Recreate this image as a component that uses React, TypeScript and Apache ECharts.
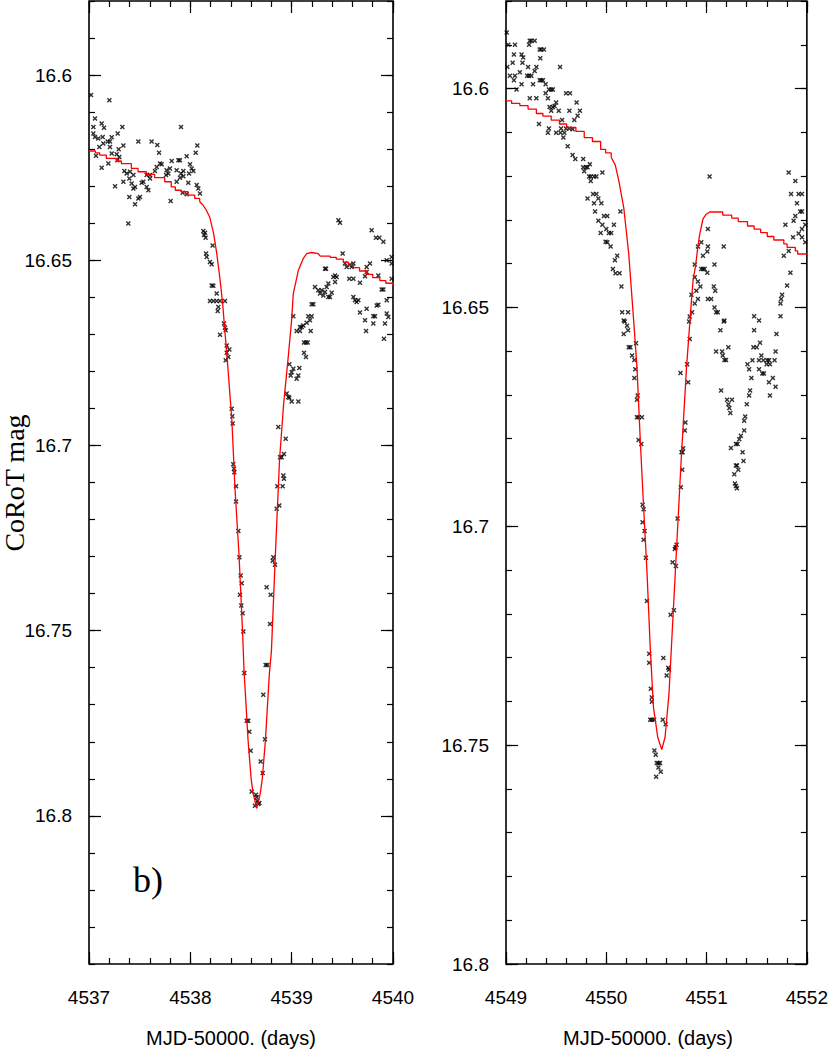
import React, { useEffect, useRef } from "react";
import * as echarts from "echarts";

// ---- tick labels / ranges ----
const leftXTicks = [4537, 4538, 4539, 4540];
const rightXTicks = [4549, 4550, 4551, 4552];
const leftYTicks = [16.6, 16.65, 16.7, 16.75, 16.8];
const rightYTicks = [16.6, 16.65, 16.7, 16.75, 16.8];
const leftXRange = [4537, 4540];
const rightXRange = [4549, 4552];
const leftYRange = [16.58, 16.84];
const rightYRange = [16.58, 16.8];

// ---- observations, panel b left (MJD-50000, CoRoT mag) ----
const leftObs: [number, number][] = [
  [4537.020,16.6054],[4537.201,16.6068],[4537.059,16.6117],[4537.043,16.6140],[4537.125,16.6131],[4537.148,16.6142],[4537.329,16.6140],[4537.043,16.6158],[4537.059,16.6167],[4537.092,16.6171],[4537.135,16.6167],[4537.224,16.6168],[4537.283,16.6158],[4537.908,16.6140],[4537.487,16.6179],[4537.618,16.6179],[4537.674,16.6189],[4537.691,16.6210],[4537.339,16.6190],[4537.293,16.6200],[4537.184,16.6179],[4537.207,16.6179],[4537.207,16.6194],[4537.141,16.6185],[4537.102,16.6194],[4537.069,16.6218],[4537.224,16.6212],[4537.273,16.6214],[4537.299,16.6221],[4537.280,16.6230],[4537.125,16.6250],[4537.191,16.6239],
  [4538.069,16.6190],[4538.053,16.6210],[4537.964,16.6219],[4537.882,16.6230],[4537.898,16.6230],[4537.816,16.6232],[4537.701,16.6239],[4537.717,16.6241],[4537.668,16.6248],[4537.651,16.6259],[4537.766,16.6257],[4537.783,16.6266],[4537.760,16.6270],[4537.799,16.6252],[4537.865,16.6257],[4537.931,16.6259],[4537.997,16.6241],[4538.013,16.6252],[4538.030,16.6259],[4537.987,16.6266],[4537.908,16.6266],[4537.898,16.6277],[4537.865,16.6288],[4537.931,16.6273],[4537.980,16.6291],[4538.063,16.6297],[4538.079,16.6306],[4538.095,16.6320],[4537.924,16.6318],[4537.964,16.6322],[4537.806,16.6340],
  [4537.349,16.6259],[4537.372,16.6266],[4537.405,16.6261],[4537.438,16.6270],[4537.398,16.6279],[4537.339,16.6288],[4537.257,16.6300],[4537.421,16.6293],[4537.438,16.6306],[4537.454,16.6302],[4537.520,16.6291],[4537.536,16.6288],[4537.569,16.6302],[4537.586,16.6311],[4537.602,16.6270],[4537.602,16.6279],[4537.569,16.6270],[4537.503,16.6329],[4537.487,16.6333],[4537.454,16.6349],[4537.398,16.6329],[4537.388,16.6401],
  [4538.128,16.6421],[4538.145,16.6426],[4538.135,16.6432],[4538.151,16.6439],[4538.220,16.6460],[4538.155,16.6482],[4538.161,16.6491],[4538.194,16.6505],[4538.211,16.6511],[4538.211,16.6568],[4538.227,16.6569],[4538.260,16.6590],[4538.194,16.6610],[4538.227,16.6610],[4538.260,16.6610],[4538.293,16.6610],[4538.342,16.6610],[4538.276,16.6626],[4538.270,16.6637],[4538.332,16.6671],[4538.342,16.6682],
  [4539.016,16.6651],[4539.197,16.6619],[4539.214,16.6619],[4539.164,16.6651],[4539.197,16.6651],[4539.181,16.6662],[4539.230,16.6572],[4539.263,16.6581],[4539.280,16.6590],[4539.296,16.6581],[4539.313,16.6595],[4539.329,16.6586],[4539.362,16.6599],[4539.378,16.6599],[4539.395,16.6588],[4539.345,16.6572],[4539.362,16.6563],[4539.428,16.6559],[4539.411,16.6545],[4539.444,16.6545],[4539.428,16.6541],[4539.461,16.6392],[4539.477,16.6399],[4539.503,16.6482],[4539.526,16.6509],[4539.543,16.6518],[4539.576,16.6512],[4539.592,16.6518],[4539.609,16.6509],[4539.569,16.6550],[4539.609,16.6550],[4539.674,16.6561],[4539.724,16.6543],[4539.740,16.6532],[4539.740,16.6518],[4539.773,16.6509],[4539.789,16.6419],[4539.832,16.6439],[4539.865,16.6439],[4539.905,16.6450],[4539.855,16.6541],[4539.938,16.6500],[4539.987,16.6491],[4539.987,16.6509],[4539.987,16.6550],[4539.888,16.6579],[4539.905,16.6579],[4539.609,16.6599],[4539.625,16.6608],[4539.641,16.6613],[4539.658,16.6608],[4539.674,16.6641],[4539.740,16.6631],[4539.806,16.6651],[4539.822,16.6651],[4539.839,16.6622],[4539.855,16.6620],[4539.938,16.6608],[4539.938,16.6644],[4539.954,16.6653],[4539.921,16.6671],[4539.806,16.6671],[4539.724,16.6662],[4539.329,16.6523],[4539.339,16.6523],[4539.082,16.6680],[4539.115,16.6676],[4539.148,16.6669],
  [4538.349,16.6689],[4538.293,16.6701],[4538.359,16.6730],[4538.385,16.6741],[4538.359,16.6750],[4538.375,16.6761],[4538.349,16.6770],[4538.408,16.6901],[4538.414,16.6921],[4538.418,16.6941],[4538.424,16.7051],[4538.431,16.7063],[4538.434,16.7072],[4538.451,16.7110],[4538.451,16.7151],[4538.474,16.7231],[4538.484,16.7302],[4538.497,16.7351],[4538.507,16.7372],[4538.490,16.7403],[4538.503,16.7432],[4538.516,16.7453],[4538.523,16.7502],
  [4538.786,16.7482],[4538.793,16.7403],[4538.753,16.7383],[4538.819,16.7302],[4538.813,16.7311],[4538.836,16.7322],[4538.852,16.7171],[4538.878,16.7162],[4538.859,16.7110],[4538.911,16.7110],[4538.918,16.7081],[4538.924,16.7090],[4538.885,16.7032],[4538.901,16.7032],[4538.924,16.7023],[4538.941,16.6982],[4538.868,16.6950],[4538.951,16.6860],[4538.967,16.6869],[4538.977,16.6871],[4539.000,16.6881],[4539.066,16.6881],[4539.049,16.6820],[4539.066,16.6811],[4538.990,16.6811],[4539.000,16.6802],[4539.016,16.6793],[4538.977,16.6781],[4539.076,16.6791],[4539.122,16.6750],[4539.141,16.6761],[4539.141,16.6722],[4539.122,16.6722],[4539.158,16.6722],[4539.049,16.6691],[4539.082,16.6691],[4539.099,16.6680],[4539.188,16.6691],[4539.734,16.6691],[4539.911,16.6712],
  [4538.533,16.7614],[4538.556,16.7743],[4538.572,16.7743],[4538.582,16.7773],[4538.595,16.7824],[4538.605,16.7934],[4538.648,16.7943],[4538.655,16.7950],[4538.661,16.7959],[4538.681,16.7965],[4538.638,16.7973],[4538.671,16.7968],[4538.694,16.7853],[4538.714,16.7884],[4538.720,16.7673],[4538.737,16.7793],[4538.743,16.7593],[4538.760,16.7593],
];

// ---- model, left panel ----
const leftModelPre: [number, number][] = [
  [4537.000,16.6205],[4537.063,16.6210],[4537.105,16.6216],[4537.171,16.6225],[4537.270,16.6232],[4537.319,16.6239],[4537.418,16.6252],[4537.484,16.6261],[4537.566,16.6268],[4537.648,16.6277],[4537.747,16.6288],[4537.812,16.6302],[4537.852,16.6311],[4537.911,16.6315],[4537.977,16.6324],[4538.043,16.6333],[4538.092,16.6342],
];
const leftModelDip: [number, number][] = [
  [4538.092,16.6342],[4538.125,16.6351],[4538.158,16.6365],[4538.191,16.6383],[4538.230,16.6428],[4538.260,16.6480],[4538.290,16.6545],[4538.320,16.6620],[4538.340,16.6689],[4538.360,16.6752],[4538.410,16.6932],[4538.440,16.7113],[4538.480,16.7293],[4538.515,16.7500],[4538.530,16.7608],[4538.570,16.7797],[4538.600,16.7900],[4538.620,16.7940],[4538.655,16.7980],[4538.690,16.7940],[4538.710,16.7900],[4538.740,16.7800],[4538.780,16.7616],[4538.800,16.7556],[4538.840,16.7290],[4538.880,16.7040],[4538.920,16.6890],[4538.970,16.6750],[4539.000,16.6660],[4539.016,16.6590],[4539.066,16.6527],[4539.115,16.6495],[4539.148,16.6482],[4539.197,16.6479],[4539.263,16.6482],[4539.280,16.6489],
];
const leftModelPost: [number, number][] = [
  [4539.280,16.6489],[4539.380,16.6492],[4539.440,16.6497],[4539.510,16.6505],[4539.560,16.6514],[4539.610,16.6520],[4539.670,16.6529],[4539.740,16.6538],[4539.800,16.6547],[4539.870,16.6555],[4539.930,16.6562],[4540.000,16.6570],
];

// ---- observations, right panel ----
const rightObs: [number, number][] = [
  [4549.007,16.5872],[4549.023,16.5900],[4549.089,16.5900],[4549.013,16.5951],[4549.066,16.5941],[4549.079,16.5922],[4549.155,16.5922],[4549.171,16.5929],[4549.164,16.5941],[4549.237,16.5891],[4549.253,16.5891],[4549.286,16.5891],[4549.230,16.5900],[4549.336,16.5911],[4549.352,16.5911],[4549.378,16.5911],[4549.342,16.5931],[4549.220,16.5951],[4549.303,16.5951],[4549.539,16.5951],[4549.039,16.5971],[4549.089,16.5971],[4549.079,16.5981],[4549.138,16.5963],[4549.105,16.6002],[4549.155,16.5990],[4549.211,16.5971],[4549.230,16.5971],[4549.253,16.5971],[4549.286,16.5960],[4549.336,16.5981],[4549.352,16.5981],[4549.368,16.5981],[4549.270,16.5990],[4549.395,16.5990],[4549.428,16.6002],[4549.451,16.6002],[4549.467,16.6002],[4549.395,16.6011],[4549.418,16.6022],[4549.467,16.6042],[4549.484,16.6040],[4549.500,16.6032],[4549.434,16.6042],[4549.451,16.6051],[4549.526,16.6051],[4549.237,16.6022],[4549.303,16.6022],[4549.599,16.6011],[4549.638,16.6011],[4549.704,16.6032],[4549.632,16.6051],[4549.737,16.6051],[4549.714,16.6062],[4549.681,16.6072],[4549.559,16.6072],[4549.329,16.6081],[4549.428,16.6091],[4549.418,16.6101],[4549.500,16.6101],[4549.543,16.6101],[4549.582,16.6101],[4549.549,16.6091],[4549.599,16.6091],[4549.632,16.6091],[4549.664,16.6093],[4549.572,16.6112],[4549.615,16.6132],[4549.664,16.6152],[4549.691,16.6161],[4549.770,16.6161],[4549.770,16.6180],[4549.796,16.6180],[4549.813,16.6180],[4549.836,16.6173],[4549.780,16.6189],[4549.829,16.6201],[4549.845,16.6201],[4549.878,16.6201],[4549.901,16.6201],[4549.845,16.6211],[4549.961,16.6192],[4549.813,16.6251],[4549.868,16.6241],[4549.901,16.6241],[4549.921,16.6251],[4549.878,16.6262],[4549.951,16.6262],[4549.888,16.6281],[4549.977,16.6291],[4550.010,16.6291],[4549.921,16.6302],[4549.961,16.6311],[4549.944,16.6330],[4550.000,16.6321],[4550.026,16.6330],[4550.049,16.6330],[4550.076,16.6311],[4549.993,16.6350],[4550.010,16.6351],[4550.043,16.6361],[4550.109,16.6382],[4550.086,16.6392],[4550.066,16.6412],[4550.092,16.6422],[4550.132,16.6422],[4550.151,16.6452],[4550.141,16.6281],[4550.158,16.6511],[4550.217,16.6511],
  [4551.030,16.6201],[4551.013,16.6321],[4550.914,16.6361],[4550.947,16.6351],[4551.013,16.6361],[4550.964,16.6382],[4551.007,16.6372],[4551.171,16.6361],[4551.079,16.6402],[4550.882,16.6402],[4550.947,16.6412],[4550.964,16.6412],[4550.980,16.6412],[4551.007,16.6421],[4550.882,16.6431],[4550.914,16.6441],[4550.938,16.6452],[4550.898,16.6462],[4550.849,16.6471],[4551.072,16.6452],[4551.086,16.6462],[4550.882,16.6491],[4550.914,16.6481],[4551.013,16.6481],[4551.046,16.6481],[4551.079,16.6500],[4551.095,16.6511],[4551.112,16.6511],[4551.178,16.6530],[4551.474,16.6520],[4551.523,16.6530],[4551.737,16.6520],[4551.786,16.6311],[4551.770,16.6382],[4551.819,16.6371],[4551.836,16.6421],[4551.803,16.6450],[4551.753,16.6471],[4551.737,16.6491],[4551.743,16.6481],[4551.819,16.6192],[4551.885,16.6211],[4551.842,16.6241],[4551.918,16.6241],[4551.951,16.6241],[4551.901,16.6262],[4551.934,16.6281],[4551.951,16.6281],[4551.885,16.6291],[4551.868,16.6302],[4551.984,16.6311],[4551.951,16.6321],[4551.918,16.6331],[4551.951,16.6340],[4551.862,16.6340],[4551.984,16.6351],
  [4550.174,16.6530],[4550.184,16.6532],[4550.207,16.6542],[4550.217,16.6552],[4550.174,16.6561],[4550.296,16.6582],[4550.240,16.6591],[4550.224,16.6591],[4550.257,16.6610],[4550.280,16.6620],[4550.289,16.6641],[4550.280,16.6661],[4550.313,16.6701],[4550.306,16.6711],[4550.322,16.6751],[4550.306,16.6751],[4550.355,16.6751],[4550.322,16.6803],[4550.349,16.6812],[4550.362,16.6951],[4550.372,16.6961],[4550.362,16.6991],[4550.382,16.7011],[4550.372,16.7031],[4550.395,16.7072],
  [4550.855,16.6511],[4550.832,16.6521],[4550.826,16.6532],[4550.832,16.6572],[4550.740,16.6650],[4550.806,16.6630],[4550.816,16.6671],[4550.789,16.6763],[4550.783,16.6781],[4550.766,16.6822],[4550.750,16.6831],[4550.760,16.6831],[4550.757,16.6871],[4550.743,16.6911],[4550.711,16.6982],[4550.701,16.7042],[4550.684,16.7052],[4550.691,16.7048],[4550.661,16.7082],[4550.694,16.7091],
  [4551.171,16.6532],[4551.138,16.6552],[4551.217,16.6591],[4551.095,16.6601],[4551.155,16.6601],[4551.161,16.6610],[4551.178,16.6620],[4551.194,16.6620],[4551.145,16.6690],[4551.204,16.6711],[4551.217,16.6721],[4551.253,16.6711],[4551.227,16.6730],[4551.237,16.6741],[4551.408,16.6630],[4551.424,16.6641],[4551.457,16.6621],[4551.447,16.6661],[4551.434,16.6690],[4551.424,16.6701],[4551.401,16.6721],[4551.385,16.6749],[4551.375,16.6759],[4551.375,16.6781],[4551.342,16.6793],[4551.326,16.6801],[4551.309,16.6812],[4551.293,16.6812],[4551.243,16.6821],[4551.359,16.6831],[4551.293,16.6861],[4551.303,16.6861],[4551.316,16.6871],[4551.276,16.6881],[4551.368,16.6851],[4551.283,16.6902],[4551.293,16.6908],[4551.303,16.6913],
  [4551.474,16.6552],[4551.533,16.6581],[4551.467,16.6591],[4551.500,16.6591],[4551.546,16.6610],[4551.523,16.6621],[4551.566,16.6621],[4551.605,16.6621],[4551.622,16.6621],[4551.599,16.6630],[4551.632,16.6630],[4551.523,16.6641],[4551.556,16.6651],[4551.572,16.6651],[4551.678,16.6621],[4551.688,16.6601],[4551.661,16.6661],[4551.622,16.6671],[4551.688,16.6681],[4551.632,16.6701],[4551.697,16.6561],
  [4550.405,16.7171],[4550.428,16.7291],[4550.428,16.7312],[4550.444,16.7371],[4550.454,16.7391],[4550.454,16.7401],[4550.438,16.7442],[4550.454,16.7442],[4550.477,16.7442],[4550.480,16.7512],[4550.493,16.7522],[4550.503,16.7541],[4550.520,16.7541],[4550.536,16.7541],[4550.520,16.7551],[4550.543,16.7561],[4550.497,16.7572],[4550.569,16.7301],[4550.563,16.7442],[4550.592,16.7452],[4550.602,16.7341],[4550.618,16.7323],[4550.625,16.7328],[4550.641,16.7202],[4550.674,16.7192],
];

// ---- model, right panel ----
const rightModelPre: [number, number][] = [
  [4549.000,16.6028],[4549.056,16.6034],[4549.138,16.6039],[4549.220,16.6047],[4549.303,16.6057],[4549.368,16.6063],[4549.451,16.6072],[4549.533,16.6081],[4549.605,16.6089],[4549.697,16.6098],[4549.780,16.6112],[4549.862,16.6121],[4549.944,16.6139],[4549.993,16.6147],[4550.049,16.6157],
];
const rightModelDip: [number, number][] = [
  [4550.049,16.6157],[4550.090,16.6175],[4550.125,16.6211],[4550.174,16.6272],[4550.224,16.6378],[4550.273,16.6530],[4550.306,16.6637],[4550.339,16.6804],[4550.372,16.6956],[4550.405,16.7100],[4550.438,16.7276],[4550.470,16.7413],[4550.513,16.7482],[4550.553,16.7510],[4550.586,16.7482],[4550.625,16.7383],[4550.658,16.7238],[4550.684,16.7124],[4550.717,16.6979],[4550.750,16.6835],[4550.800,16.6637],[4550.849,16.6485],[4550.865,16.6439],[4550.890,16.6405],[4550.914,16.6360],[4550.931,16.6333],[4550.964,16.6298],[4550.997,16.6287],[4551.030,16.6282],[4551.145,16.6282],
];
const rightModelPost: [number, number][] = [
  [4551.145,16.6282],[4551.161,16.6289],[4551.250,16.6296],[4551.316,16.6304],[4551.408,16.6314],[4551.474,16.6321],[4551.539,16.6329],[4551.605,16.6338],[4551.671,16.6346],[4551.770,16.6355],[4551.803,16.6363],[4551.885,16.6371],[4551.908,16.6378],[4552.000,16.6378],
];

const CROSS = "path://M0,2L2,0L5,3L8,0L10,2L7,5L10,8L8,10L5,7L2,10L0,8L3,5Z";
const SANS = '"Liberation Sans", Arial, sans-serif';
const SERIF = '"Liberation Serif", "Times New Roman", serif';

function fmt(v: number) {
  return String(Math.round(v * 100) / 100);
}

function minorValues(min: number, max: number, step: number) {
  const out: number[] = [];
  const n = Math.round((max - min) / step);
  for (let i = 0; i <= n; i++) out.push(Math.round((min + i * step) * 1000) / 1000);
  return out;
}

function buildAxes(
  gridIndex: number,
  xr: number[],
  xMajor: number[],
  yr: number[],
  yMajor: number[]
) {
  const tickLine = { color: "#000", width: 1.2 };
  const xMinor = minorValues(xr[0], xr[1], 0.2);
  const yMinor = minorValues(yr[0], yr[1], 0.01);
  const baseX = (pos: string, vals: number[], len: number, label: boolean) => ({
    type: "value",
    gridIndex,
    min: xr[0],
    max: xr[1],
    position: pos,
    axisLine: { show: false },
    splitLine: { show: false },
    axisTick: { show: true, inside: true, length: len, customValues: vals, lineStyle: tickLine },
    axisLabel: label
      ? {
          show: true,
          customValues: vals,
          margin: 24,
          fontSize: 19,
          fontFamily: SANS,
          color: "#000",
          formatter: (v: number) => fmt(v),
        }
      : { show: false },
  });
  const baseY = (pos: string, vals: number[], len: number, label: boolean) => ({
    type: "value",
    gridIndex,
    min: yr[0],
    max: yr[1],
    inverse: true,
    position: pos,
    axisLine: { show: false },
    splitLine: { show: false },
    axisTick: { show: true, inside: true, length: len, customValues: vals, lineStyle: tickLine },
    axisLabel: label
      ? {
          show: true,
          customValues: vals,
          margin: 17,
          fontSize: 19,
          fontFamily: SANS,
          color: "#000",
          padding: [12, 0, 0, 0],
          formatter: (v: number) => fmt(v),
        }
      : { show: false },
  });
  return {
    x: [
      baseX("bottom", xMajor, 12, true),
      baseX("bottom", xMinor, 6, false),
      baseX("top", xMajor, 12, false),
      baseX("top", xMinor, 6, false),
    ],
    y: [
      baseY("left", yMajor, 12, true),
      baseY("left", yMinor, 6, false),
      baseY("right", yMajor, 12, false),
      baseY("right", yMinor, 6, false),
    ],
  };
}

export default function App() {
  const ref = useRef<HTMLDivElement>(null);
  useEffect(() => {
    if (!ref.current) return;
    const chart = echarts.init(ref.current, undefined, { renderer: "svg" });
    const la = buildAxes(0, leftXRange, leftXTicks, leftYRange, leftYTicks);
    const ra = buildAxes(1, rightXRange, rightXTicks, rightYRange, rightYTicks);
    const redLine = { color: "#ff0000", width: 1.3 };
    const scatter = (data: [number, number][], ai: number) => ({
      type: "scatter",
      xAxisIndex: ai,
      yAxisIndex: ai,
      data,
      symbol: CROSS,
      symbolSize: 5,
      itemStyle: { color: "#000" },
      silent: true,
    });
    const line = (data: [number, number][], ai: number, step: boolean) => ({
      type: "line",
      xAxisIndex: ai,
      yAxisIndex: ai,
      data,
      step: step ? "end" : false,
      symbol: "none",
      showSymbol: false,
      lineStyle: redLine,
      silent: true,
      z: 3,
    });
    chart.setOption({
      animation: false,
      backgroundColor: "#fff",
      grid: [
        { left: 89, top: 1, width: 304, height: 963, show: true, borderColor: "#000", borderWidth: 1.6, backgroundColor: "transparent" },
        { left: 506, top: 1, width: 304, height: 963, show: true, borderColor: "#000", borderWidth: 1.6, backgroundColor: "transparent" },
      ],
      xAxis: [...la.x, ...ra.x],
      yAxis: [...la.y, ...ra.y],
      series: [
        scatter(leftObs, 0),
        line(leftModelPre, 0, true),
        line(leftModelDip, 0, false),
        line(leftModelPost, 0, true),
        scatter(rightObs, 4),
        line(rightModelPre, 4, true),
        line(rightModelDip, 4, false),
        line(rightModelPost, 4, true),
      ],
      graphic: [
        {
          type: "text",
          x: 14,
          y: 483,
          rotation: Math.PI / 2,
          style: { text: "CoRoT mag", fontSize: 28, fontFamily: SERIF, fill: "#000", textAlign: "center", textVerticalAlign: "middle" },
        },
        {
          type: "text",
          x: 133,
          y: 880,
          style: { text: "b)", fontSize: 36, fontFamily: SERIF, fill: "#000", textAlign: "left", textVerticalAlign: "middle" },
        },
        {
          type: "text",
          x: 231,
          y: 1038,
          style: { text: "MJD-50000. (days)", fontSize: 20, fontFamily: SANS, fill: "#000", textAlign: "center", textVerticalAlign: "middle" },
        },
        {
          type: "text",
          x: 648,
          y: 1038,
          style: { text: "MJD-50000. (days)", fontSize: 20, fontFamily: SANS, fill: "#000", textAlign: "center", textVerticalAlign: "middle" },
        },
      ],
    });
    return () => chart.dispose();
  }, []);
  return (
    <div
      ref={ref}
      style={{ position: "absolute", left: 0, top: 0, width: 831, height: 1050, background: "#fff" }}
    />
  );
}
